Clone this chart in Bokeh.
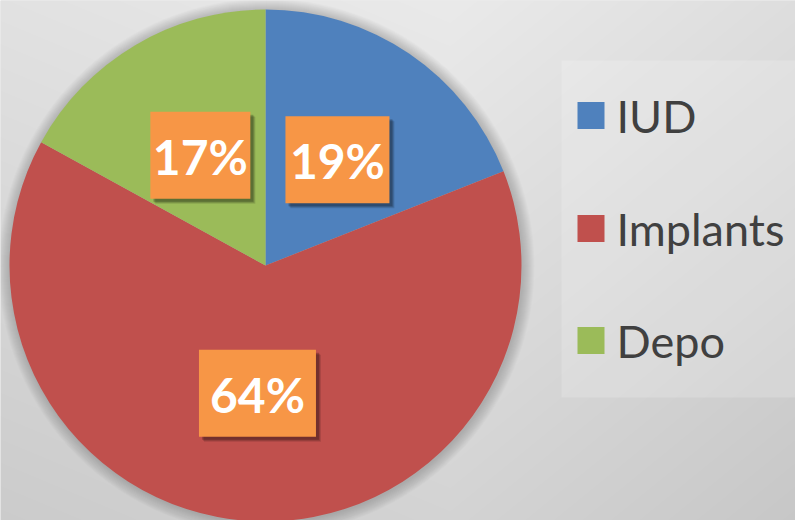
import numpy as np
from bokeh.plotting import figure
from bokeh.models import Range1d, ColumnDataSource
from bokeh.core.properties import value
from bokeh.embed import file_html
from bokeh.resources import INLINE

# ---- data ----
categories = ["IUD", "Implants", "Depo"]
shares = [19, 64, 17]
label_texts = ["19%", "64%", "17%"]
colors = ["#4F81BD", "#C0504D", "#9BBB59"]

# ---- layout / style ----
W, H = 795, 520
CX, CY, R = 265, 255, 256  # pie centre (data units == pixels) and radius
box_w = [104, 117, 100]
box_h = 87
label_color = "#F79646"

p = figure(width=W, height=H, x_range=Range1d(0, W), y_range=Range1d(0, H),
           output_backend="svg", toolbar_location=None, min_border=0,
           x_axis_type=None, y_axis_type=None)
p.grid.visible = False
p.outline_line_color = None
p.background_fill_color = "#D8D8D8"
p.border_fill_color = "#D8D8D8"

# ---- background gradient ----
ys_data = np.arange(0, H) + 0.5
xs = np.arange(0, W) + 0.5
XX, YY = np.meshgrid(xs, H - ys_data)
dx = XX - 450
v = 234 - 0.043 * YY - np.where(dx < 0, 0.018, 0.035) * np.abs(dx)
v = np.clip(v, 0, 255).astype(np.uint8)
img = np.empty(v.shape, dtype=np.uint32)
view = img.view(dtype=np.uint8).reshape(v.shape + (4,))
view[..., 0] = v
view[..., 1] = v
view[..., 2] = v
view[..., 3] = 255
p.image_rgba(image=[img], x=0, y=0, dw=W, dh=H)

# ---- legend panel ----
p.quad(left=561, right=W + 10, bottom=H - 397, top=H - 60,
       fill_color="white", fill_alpha=0.18, line_color=None)

# ---- pie shadow ----
for i in range(1, 13):
    p.circle(x=CX + 1, y=CY - 1, radius=R + i, fill_color="black", fill_alpha=0.014, line_color=None)

# ---- pie ----
frac = np.array(shares, dtype=float) / sum(shares)
cum = np.cumsum(frac)
start = np.pi / 2 - 2 * np.pi * np.concatenate([[0], cum[:-1]])
end = np.pi / 2 - 2 * np.pi * cum
src = ColumnDataSource(dict(cat=categories, start=start, end=end, color=colors))
p.wedge(x=CX, y=CY, radius=R, start_angle="start", end_angle="end", direction="clock",
        fill_color="color", line_color=None, source=src)

# ---- data labels ----
mid = (start + end) / 2
lx = CX + 0.5 * R * np.cos(mid)
ly = CY + 0.5 * R * np.sin(mid)
for off, a in [(5, 0.12), (4, 0.15), (3, 0.2)]:
    p.rect(x=lx + off, y=ly - off, width=box_w, height=box_h,
           fill_color="black", fill_alpha=a, line_color=None)
p.rect(x=lx, y=ly, width=box_w, height=box_h, fill_color=label_color, line_color=None)
p.text(x=lx, y=ly - 1, text=label_texts, text_align="center", text_baseline="middle",
       text_color="white", text_font=value("Lato"), text_font_style="bold",
       text_font_size="48px")

# ---- legend ----
leg_y = H - np.array([115, 228, 340])
p.rect(x=[590.5] * 3, y=leg_y, width=27, height=27, fill_color=colors, line_color=None)
p.text(x=[616] * 3, y=leg_y, text=categories, text_align="left", text_baseline="middle",
       text_color="#404040", text_font=value("Lato"), text_font_size="45px")

open("out.html", "w").write(file_html(p, INLINE))
